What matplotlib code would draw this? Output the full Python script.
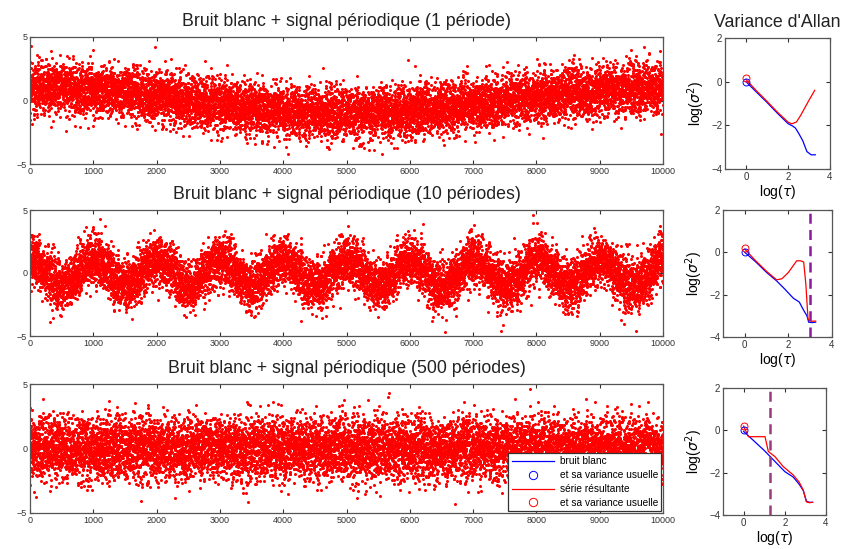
import numpy as np
import matplotlib
matplotlib.use("Agg")
import matplotlib.pyplot as plt
from matplotlib.lines import Line2D

plt.rcParams['font.family'] = ['Liberation Sans', 'DejaVu Sans']

# ---------------- data ----------------
n_samples = 10000
noise_std = 1.0
signal_amplitude = 1.0
periods = [1, 10, 500]
titles = ["Bruit blanc + signal périodique (1 période)",
          "Bruit blanc + signal périodique (10 périodes)",
          "Bruit blanc + signal périodique (500 périodes)"]

# Allan variance curves (log10 tau, log10 sigma^2)
blue1_x = [0.0, 0.5, 1.0, 1.5, 2.0, 2.2, 2.35, 2.5, 2.7, 2.9, 3.1, 3.3]
blue1_y = [0.0, -0.48, -0.95, -1.45, -1.92, -2.02, -2.12, -2.35, -2.7, -3.2, -3.35, -3.35]
red1_x = [0.0, 0.5, 1.0, 1.5, 2.0, 2.18, 2.4, 2.6, 2.8, 3.0, 3.15, 3.27]
red1_y = [0.1, -0.42, -0.9, -1.4, -1.85, -1.93, -1.85, -1.55, -1.2, -0.85, -0.6, -0.4]

blue2_x = [0.0, 0.5, 1.0, 1.46, 1.8, 2.23, 2.5, 2.69, 2.85, 2.93, 3.1, 3.25]
blue2_y = [0.0, -0.45, -0.95, -1.35, -1.7, -2.17, -2.35, -2.72, -3.0, -3.3, -3.32, -3.3]
red2_x = [0.0, 0.5, 1.0, 1.46, 1.7, 2.0, 2.38, 2.55, 2.7, 2.8, 2.9, 3.0, 3.25]
red2_y = [0.15, -0.4, -0.9, -1.3, -1.25, -0.95, -0.4, -0.4, -0.45, -1.5, -3.15, -3.25, -3.25]

blue3_x = [0.0, 0.5, 1.0, 1.5, 2.0, 2.4, 2.7, 2.9, 3.05, 3.2, 3.35]
blue3_y = [-0.05, -0.5, -0.95, -1.45, -1.95, -2.2, -2.55, -2.85, -3.35, -3.4, -3.4]
red3_x = [0.0, 0.23, 0.5, 0.8, 1.04, 1.2, 1.52, 1.92, 2.4, 2.7, 2.89, 3.05, 3.2, 3.35]
red3_y = [0.2, -0.3, -0.3, -0.3, -0.3, -1.0, -1.24, -1.71, -2.1, -2.45, -2.81, -3.38, -3.42, -3.4]

marker_blue_y = [0.0, 0.0, 0.0]
marker_red_y = [0.15, 0.2, 0.2]

period_marks = [None, 3.0, 1.3]   # log10(period)

allan_x = [(blue1_x, red1_x), (blue2_x, red2_x), (blue3_x, red3_x)]
allan_y = [(blue1_y, red1_y), (blue2_y, red2_y), (blue3_y, red3_y)]

# ---------------- figure ----------------
W, H = 845, 549
fig = plt.figure(figsize=(W / 100, H / 100), dpi=100)

left_boxes = [(30, 37, 663, 164), (30, 210, 663, 336), (30, 384, 663, 513)]
right_boxes = [(725, 38, 830, 169), (723, 210, 832, 337), (723, 388, 826, 515)]


def frac(box):
    x0, y0, x1, y1 = box
    return [x0 / W, 1 - y1 / H, (x1 - x0) / W, (y1 - y0) / H]


def style(ax, size):
    for s in ax.spines.values():
        s.set_color('#555555')
        s.set_linewidth(0.9)
    ax.tick_params(direction='in', top=True, right=True, length=3,
                   labelsize=size, colors='#333333', pad=2, width=0.8)


rng = np.random.default_rng(3)
t = np.arange(1, n_samples + 1)

for i in range(3):
    ax = fig.add_axes(frac(left_boxes[i]))
    y = noise_std * rng.standard_normal(n_samples) + \
        signal_amplitude * np.cos(2 * np.pi * periods[i] * t / n_samples)
    ax.plot(t, y, '.', color='#ff0000', ms=4.4, mew=0)
    ax.set_xlim(0, 10000)
    ax.set_ylim(-5, 5)
    ax.set_xticks(np.arange(0, 10001, 1000))
    ax.set_yticks([-5, 0, 5])
    style(ax, 6.5)
    ax.set_title(titles[i], fontsize=12.8, pad=8, color='#222222')

    if i == 2:
        handles = [Line2D([], [], color='blue', lw=0.9),
                   Line2D([], [], color='blue', marker='o', ls='none', mfc='none', ms=6, mew=0.7),
                   Line2D([], [], color='red', lw=0.9),
                   Line2D([], [], color='red', marker='o', ls='none', mfc='none', ms=6, mew=0.7)]
        labels = ["bruit blanc", "et sa variance usuelle",
                  "série résultante", "et sa variance usuelle"]
        leg = ax.legend(handles, labels, loc='lower right', fontsize=7.3,
                        frameon=True, fancybox=False, edgecolor='#333333',
                        borderaxespad=0.15, handlelength=4.2, labelspacing=0.38,
                        borderpad=0.35, handletextpad=0.5)
        leg.get_frame().set_linewidth(0.9)
        leg.get_frame().set_alpha(1)

    axr = fig.add_axes(frac(right_boxes[i]))
    bx, rx = allan_x[i]
    by, ry = allan_y[i]
    axr.plot(bx, by, color='blue', lw=0.9)
    axr.plot(rx, ry, color='red', lw=0.9)
    axr.plot([0], [marker_blue_y[i]], 'o', mfc='none', mec='blue', ms=5, mew=0.7)
    axr.plot([0], [marker_red_y[i]], 'o', mfc='none', mec='red', ms=5, mew=0.7)
    if period_marks[i] is not None:
        axr.axvline(period_marks[i], color='#8b1a9b' if i == 1 else '#9b3a7b',
                    ls=(0, (4, 2.5)), lw=1.8)
    axr.set_xlim(-1, 4)
    axr.set_ylim(-4, 2)
    axr.set_xticks([0, 2, 4])
    axr.set_yticks([-4, -2, 0, 2])
    style(axr, 7)
    axr.set_ylabel(r"log($\sigma^2$)", fontsize=10, labelpad=3)
    axr.set_xlabel(r"log($\tau$)", fontsize=10, labelpad=1)
    if i == 0:
        axr.set_title("Variance d'Allan", fontsize=12.8, pad=8, color='#222222')

fig.savefig("out.png", dpi=100)
